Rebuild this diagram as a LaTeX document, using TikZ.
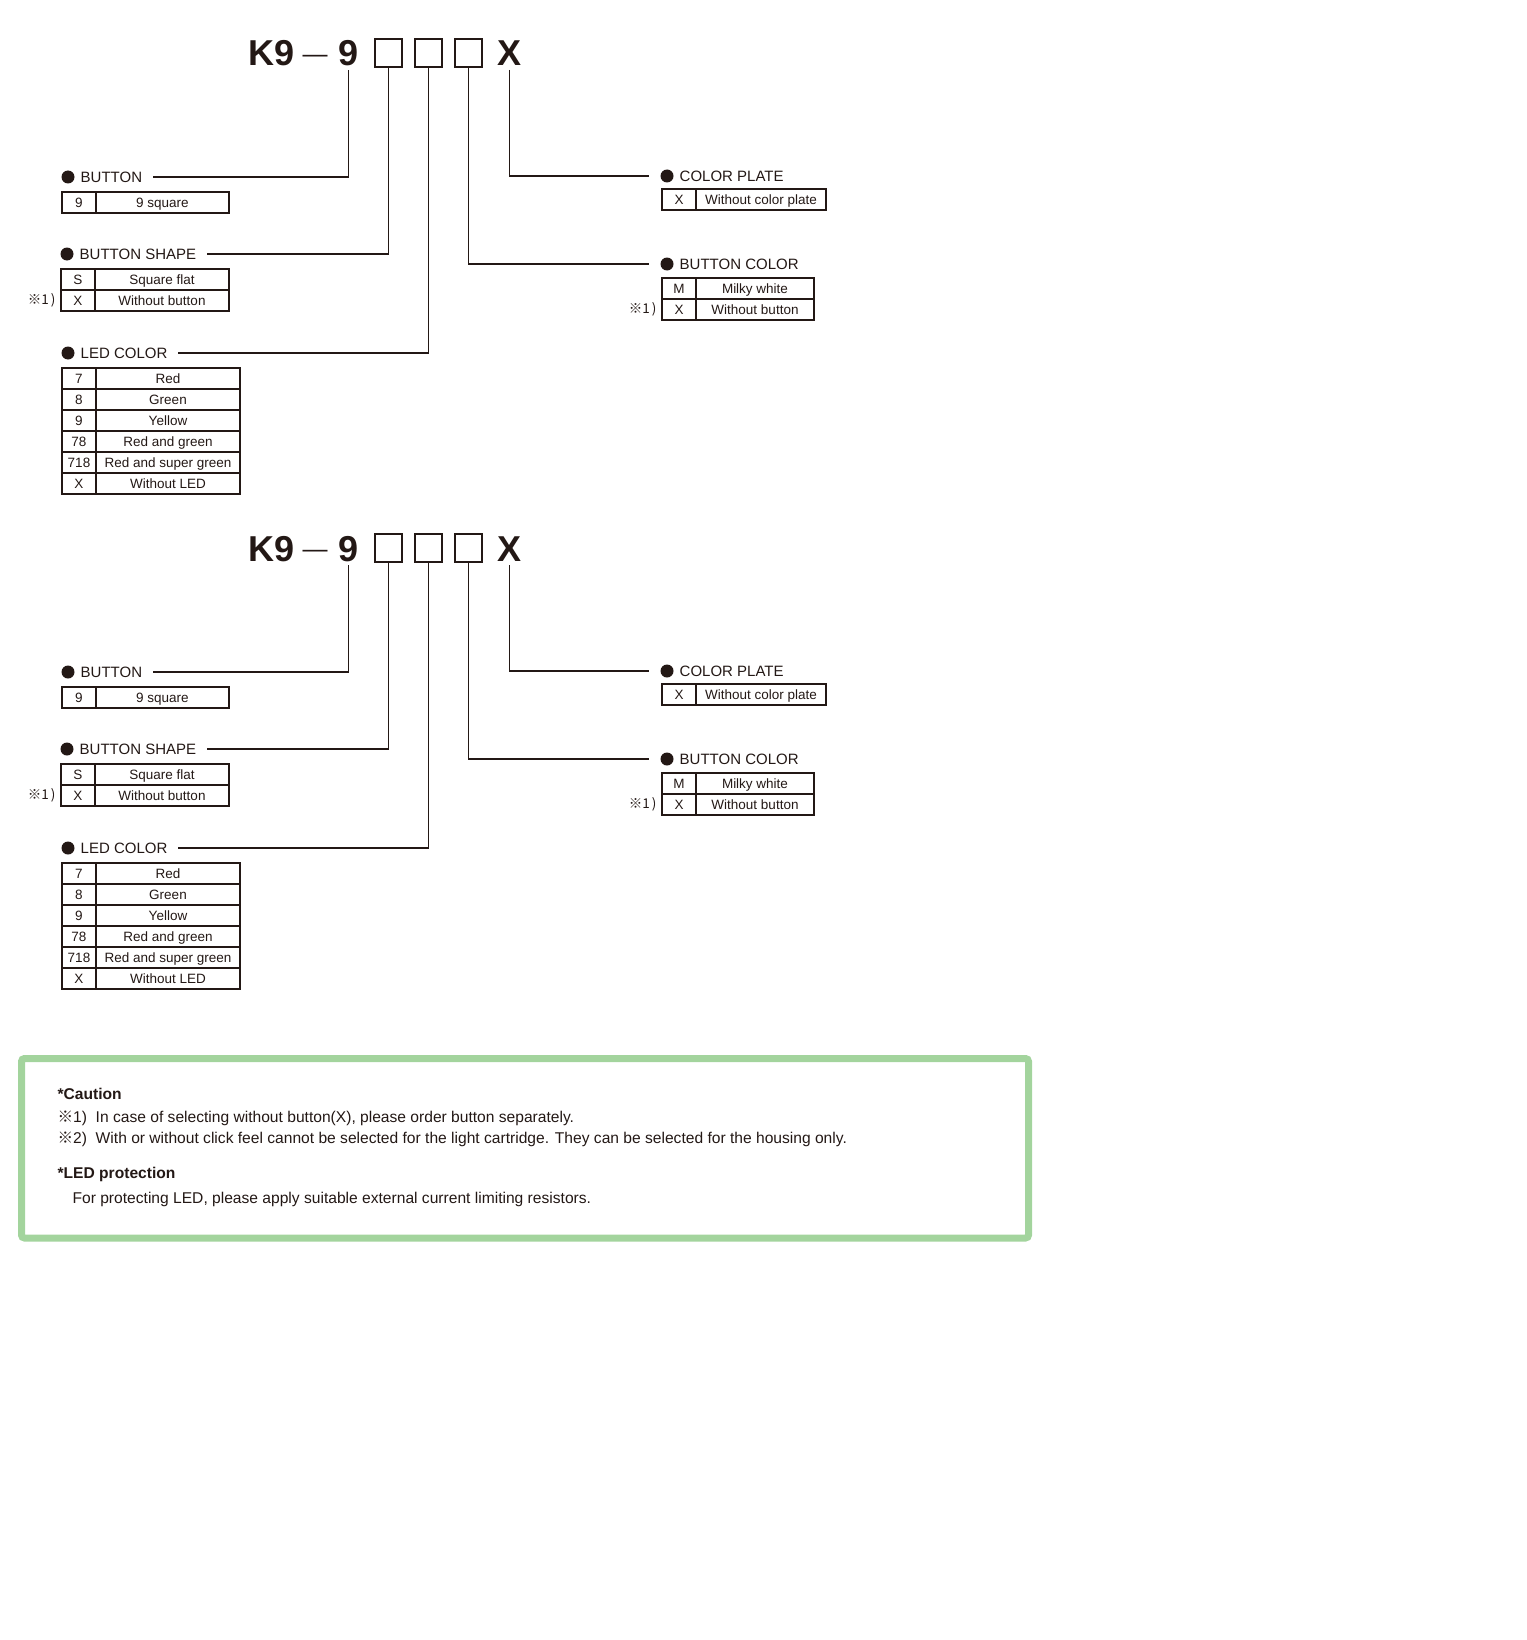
\documentclass[tikz,border=0pt]{standalone}
\usepackage{fontspec}
\setmainfont{Liberation Sans}
\newfontfamily\cjk{Noto Sans CJK JP}
\usetikzlibrary{positioning}
\definecolor{ink}{HTML}{231815}
\definecolor{notegreen}{HTML}{A3D49D}

% one option table: name, x, y of top left, width of text column, rows code/text
\newcommand{\opttable}[5]{%
  \foreach \code/\desc [count=\r] in {#5}{
    \node[codecell] (#1c\r) at (#2,{#3+(\r-1)*21}) {\code};
    \node[desccell,minimum width=#4pt,right=0pt of #1c\r] (#1d\r) {\desc};
  }}

\begin{document}
\begin{tikzpicture}[x=1pt,y=-1pt,line width=1.2pt,color=ink,
  title/.style={font=\fontsize{36}{40}\selectfont\bfseries,inner sep=0pt,outer ysep=4pt,anchor=base west},
  slot/.style={draw,minimum width=27pt,minimum height=28pt,inner sep=0pt},
  dot/.style={circle,fill=ink,minimum size=13pt,inner sep=0pt},
  head/.style={font=\fontsize{15}{18}\selectfont,inner xsep=5pt,inner ysep=0pt},
  codecell/.style={draw,anchor=north west,minimum width=34pt,minimum height=21pt,inner sep=0pt,outer sep=0pt,text height=11.5pt,text depth=2pt,font=\fontsize{13.5}{16}\selectfont},
  desccell/.style={codecell,anchor=west},
  refmark/.style={font=\cjk\fontsize{13.5}{16}\selectfont,inner sep=0pt},
  note/.style={font=\fontsize{15.6}{18}\selectfont,inner sep=0pt,anchor=base west}]
 \useasboundingbox (0,0) rectangle (1526,1640);

 \foreach \blk/\dy in {a/0,b/495}{
 \begin{scope}[shift={(0,\dy)}]
  % part number
  \node[title] (kn\blk) at (248,66) {K9};
  \node[font=\fontsize{25}{27}\selectfont,inner sep=0pt] (dash\blk) at (315,59) {—};
  \node[title] (nine\blk) at (338,66) {9};
  \node[slot] (sqa\blk) at (388.5,53) {};
  \node[slot] (sqb\blk) at (428.5,53) {};
  \node[slot] (sqc\blk) at (468.5,53) {};
  \node[title] (xx\blk) at (497,66) {X};
  % headings
  \node[dot] (dotbu\blk) at (68,177) {};
  \node[head,right=0pt of dotbu\blk] (hbu\blk) {BUTTON};
  \node[dot] (dotbs\blk) at (67,254) {};
  \node[head,right=0pt of dotbs\blk] (hbs\blk) {BUTTON SHAPE};
  \node[dot] (dotled\blk) at (68,353) {};
  \node[head,right=0pt of dotled\blk] (hled\blk) {LED COLOR};
  \node[dot] (dotcp\blk) at (667,176) {};
  \node[head,right=0pt of dotcp\blk] (hcp\blk) {COLOR PLATE};
  \node[dot] (dotbc\blk) at (667,264) {};
  \node[head,right=0pt of dotbc\blk] (hbc\blk) {BUTTON COLOR};
  % tables
  \opttable{tbu\blk}{62}{192}{133}{9/9 square}
  \opttable{tbs\blk}{61}{269}{134}{S/Square flat,X/Without button}
  \opttable{tled\blk}{62}{368}{144}{7/Red,8/Green,9/Yellow,78/Red and green,718/Red and super green,X/Without LED}
  \opttable{tcp\blk}{662}{189}{130}{X/Without color plate}
  \opttable{tbc\blk}{662}{278}{118}{M/Milky white,X/Without button}
  \node[refmark,left=5pt of tbs\blk c2] (rma\blk) {※1\kern2pt)};
  \node[refmark,left=5pt of tbc\blk c2] (rmb\blk) {※1\kern2pt)};
  % leaders
  \draw (nine\blk.south) |- ([xshift=5pt]hbu\blk.east);
  \draw (sqa\blk.south) |- ([xshift=5pt]hbs\blk.east);
  \draw (sqb\blk.south) |- ([xshift=5pt]hled\blk.east);
  \draw (sqc\blk.south) |- ([xshift=-11pt]dotbc\blk.west);
  \draw (xx\blk.south) |- ([xshift=-11pt]dotcp\blk.west);
 \end{scope}}

 % notes
 \draw[notegreen,line width=7pt,rounded corners=3pt] (21.5,1058.5) rectangle (1028.5,1238);
 \node[note,font=\fontsize{15.6}{18}\selectfont\bfseries] (caution) at (57,1099) {*Caution};
 \node[note] (nta) at (57,1122) {{\cjk ※}1)\ \ In case of selecting without button(X), please order button separately.};
 \node[note] (ntb) at (57,1143) {{\cjk ※}2)\ \ With or without click feel cannot be selected for the light cartridge. They can be selected for the housing only.};
 \node[note,font=\fontsize{15.6}{18}\selectfont\bfseries] (ledp) at (57,1178) {*LED protection};
 \node[note] (ntc) at (72,1203) {For protecting LED, please apply suitable external current limiting resistors.};
\end{tikzpicture}
\end{document}
